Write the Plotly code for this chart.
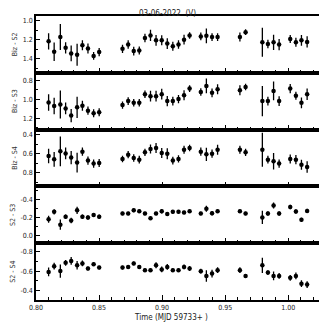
import plotly.graph_objects as go
from plotly.subplots import make_subplots

# observation times (MJD 59733+)
time = [0.810, 0.8144, 0.8193, 0.8235, 0.8279, 0.8326, 0.8368, 0.8412, 0.8457, 0.8501,
        0.8686, 0.8731, 0.8775, 0.8819, 0.8864, 0.8908, 0.8952, 0.8997, 0.9041, 0.9085,
        0.9130, 0.9174, 0.9218,
        0.9307, 0.9351, 0.9396, 0.9440,
        0.9617, 0.9662,
        0.9795, 0.9839, 0.9884, 0.9928,
        1.0016, 1.0061, 1.0105, 1.0150]

biz_s2 = [1.217, 1.328, 1.172, 1.286, 1.345, 1.359, 1.259, 1.293, 1.372, 1.331,
          1.297, 1.252, 1.321, 1.314, 1.183, 1.155, 1.207, 1.207, 1.241, 1.269,
          1.252, 1.200, 1.155,
          1.166, 1.159, 1.172, 1.172,
          1.172, 1.121,
          1.228, 1.245, 1.228, 1.252,
          1.193, 1.228, 1.207, 1.224]
biz_s2_err = [0.086, 0.098, 0.138, 0.059, 0.083, 0.117, 0.052, 0.052, 0.041, 0.043,
              0.043, 0.045, 0.045, 0.043, 0.045, 0.059, 0.057, 0.053, 0.057, 0.048,
              0.045, 0.052, 0.034,
              0.041, 0.078, 0.041, 0.041,
              0.048, 0.030,
              0.153, 0.045, 0.081, 0.059,
              0.043, 0.047, 0.057, 0.060]

biz_s3 = [1.033, 1.071, 1.054, 1.096, 1.172, 1.085, 1.068, 1.120, 1.148, 1.137,
          1.061, 1.019, 1.037, 1.037, 0.946, 0.967, 0.967, 0.946, 1.019, 1.019,
          0.998, 0.957, 0.887,
          0.922, 0.859, 0.932, 0.894,
          0.904, 0.870,
          1.019, 1.019, 0.911, 1.019,
          0.887, 0.963, 1.037, 0.946]
biz_s3_err = [0.087, 0.087, 0.148, 0.061, 0.070, 0.113, 0.052, 0.043, 0.042, 0.043,
              0.038, 0.040, 0.040, 0.040, 0.040, 0.057, 0.057, 0.057, 0.054, 0.047,
              0.043, 0.052, 0.035,
              0.040, 0.078, 0.047, 0.052,
              0.052, 0.035,
              0.160, 0.047, 0.100, 0.052,
              0.049, 0.043, 0.057, 0.061]

biz_s4 = [0.624, 0.659, 0.576, 0.597, 0.641, 0.693, 0.579, 0.672, 0.703, 0.697,
          0.655, 0.610, 0.645, 0.662, 0.586, 0.552, 0.541, 0.593, 0.600, 0.672,
          0.655, 0.559, 0.541,
          0.579, 0.607, 0.600, 0.559,
          0.559, 0.586,
          0.559, 0.662, 0.679, 0.703,
          0.655, 0.662, 0.714, 0.738]
biz_s4_err = [0.076, 0.076, 0.155, 0.060, 0.069, 0.103, 0.043, 0.043, 0.043, 0.041,
              0.034, 0.038, 0.038, 0.041, 0.038, 0.047, 0.052, 0.052, 0.057, 0.040,
              0.038, 0.041, 0.034,
              0.043, 0.069, 0.043, 0.052,
              0.041, 0.038,
              0.176, 0.041, 0.086, 0.043,
              0.047, 0.047, 0.052, 0.059]

s2_s3 = [-0.180, -0.263, -0.119, -0.209, -0.166, -0.280, -0.209, -0.200, -0.227, -0.209,
         -0.245, -0.245, -0.280, -0.270, -0.245, -0.191, -0.245, -0.270, -0.238, -0.263,
         -0.263, -0.255, -0.270,
         -0.245, -0.298, -0.248, -0.270,
         -0.270, -0.245,
         -0.200, -0.245, -0.335, -0.245,
         -0.317, -0.268, -0.173, -0.274]
s2_s3_err = [0.040, 0.030, 0.058, 0.025, 0.030, 0.040, 0.025, 0.025, 0.020, 0.025,
             0.020, 0.020, 0.020, 0.020, 0.020, 0.020, 0.020, 0.025, 0.020, 0.020,
             0.020, 0.020, 0.020,
             0.020, 0.035, 0.025, 0.020,
             0.020, 0.020,
             0.075, 0.025, 0.035, 0.025,
             0.025, 0.025, 0.025, 0.025]

s2_s4 = [-0.592, -0.651, -0.600, -0.686, -0.706, -0.661, -0.680, -0.627, -0.672, -0.637,
         -0.637, -0.644, -0.680, -0.644, -0.610, -0.610, -0.661, -0.617, -0.644, -0.610,
         -0.610, -0.644, -0.627,
         -0.599, -0.550, -0.575, -0.610,
         -0.610, -0.550,
         -0.660, -0.585, -0.550, -0.550,
         -0.530, -0.550, -0.470, -0.460]
s2_s4_err = [0.045, 0.035, 0.070, 0.030, 0.040, 0.045, 0.030, 0.020, 0.020, 0.020,
             0.020, 0.020, 0.020, 0.020, 0.020, 0.020, 0.030, 0.030, 0.030, 0.020,
             0.020, 0.025, 0.025,
             0.025, 0.060, 0.040, 0.030,
             0.030, 0.020,
             0.080, 0.025, 0.045, 0.030,
             0.030, 0.035, 0.035, 0.035]

panels = [
    ("Biz - S2", biz_s2, biz_s2_err, [1.55, 0.95], [1.0, 1.2, 1.4]),
    ("Biz - S3", biz_s3, biz_s3_err, [1.32, 0.72], [0.8, 1.0, 1.2]),
    ("Biz - S4", biz_s4, biz_s4_err, [0.94, 0.35], [0.4, 0.6, 0.8]),
    ("S2 - S3", s2_s3, s2_s3_err, [0.09, -0.55], [-0.4, -0.2, 0.0]),
    ("S2 - S4", s2_s4, s2_s4_err, [-0.30, -0.89], [-0.8, -0.6, -0.4]),
]

FONT = "DejaVu Sans Condensed, Liberation Sans Narrow, DejaVu Sans, sans-serif"

# the page body adds an 8px margin, so the figure is 8px smaller than the window
W = H = 319

fig = make_subplots(rows=5, cols=1, shared_xaxes=True, vertical_spacing=0)

for i, (label, vals, errs, yrange, yticks) in enumerate(panels, start=1):
    fig.add_trace(
        go.Scatter(
            x=time, y=vals,
            mode="markers",
            marker=dict(color="black", size=4.5),
            error_y=dict(type="data", array=errs, color="black", thickness=1.3, width=0),
            showlegend=False,
        ),
        row=i, col=1
    )
    fig.update_yaxes(
        range=yrange,
        tickvals=yticks,
        ticktext=[f"{t:.1f}" for t in yticks],
        ticks="inside", ticklen=4, tickwidth=1, tickcolor="black",
        minor=dict(ticks="inside", ticklen=2, dtick=0.1, tickcolor="black"),
        showline=True, linecolor="black", linewidth=1.6, mirror=True,
        showgrid=False, zeroline=False,
        tickfont=dict(size=7, color="#222"),
        title=dict(text=label, font=dict(size=7, color="#333"), standoff=4),
        row=i, col=1
    )

fig.update_xaxes(
    range=[0.80, 1.026],
    tickvals=[0.80, 0.85, 0.90, 0.95, 1.00],
    ticks="inside", ticklen=5, tickwidth=1, tickcolor="black",
    minor=dict(ticks="inside", ticklen=3, dtick=0.01, tickcolor="black"),
    showline=True, linecolor="black", linewidth=1.6, mirror=True,
    showgrid=False, zeroline=False,
    tickfont=dict(size=7, color="#222"),
)
fig.update_xaxes(tickformat=".2f", ticklabelstandoff=0, row=5, col=1)

# x-axis title placed just under the tick labels
fig.add_annotation(
    text="Time (MJD 59733+ )", xref="paper", yref="paper",
    x=0.474, y=0, yshift=-17, xanchor="center", yanchor="middle",
    showarrow=False, font=dict(size=8, color="#222"),
)

fig.update_layout(
    width=W, height=H,
    title=dict(text="03-06-2022  (V)", x=0.5, xanchor="center",
               y=1 - 5 / H, yanchor="middle", font=dict(size=8, color="#222")),
    paper_bgcolor="white",
    plot_bgcolor="white",
    font=dict(family=FONT),
    margin=dict(l=26, r=4, t=8, b=27),
)

fig.write_html("out.html")
